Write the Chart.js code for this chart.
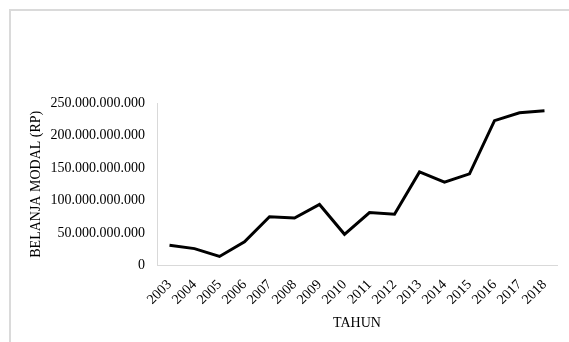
<!DOCTYPE html>
<html>
<head>
<meta charset="utf-8">
<script src="https://cdn.jsdelivr.net/npm/chart.js@4/dist/chart.umd.min.js"></script>
<style>
  html, body { margin: 0; padding: 0; background: #fff; }
  #wrap { position: relative; width: 569px; height: 342px; overflow: hidden; }
  #frame { position: absolute; left: 9px; top: 9px; width: 600px; height: 400px;
           border-left: 2px solid #dadada; border-top: 2px solid #dadada; }
  #chart { position: absolute; left: 0; top: 0; }
</style>
</head>
<body>
<div id="wrap">
  <div id="frame"></div>
  <canvas id="chart" width="569" height="342"></canvas>
</div>
<script>
const years = ['2003','2004','2005','2006','2007','2008','2009','2010','2011','2012','2013','2014','2015','2016','2017','2018'];
// belanja modal, in billions of rupiah
const belanjaModal = [31.3, 26, 14, 36.5, 75, 73, 94, 48, 81.4, 78.8, 144, 128.4, 141, 222.9, 235, 238];
const yMax = 250e9;
const yStep = 50e9;

const FONT = 'Liberation Serif, Times New Roman, serif';

function rupiah(v) {
  return String(Math.round(v)).replace(/\B(?=(\d{3})+(?!\d))/g, '.');
}

new Chart(document.getElementById('chart'), {
  type: 'line',
  data: {
    labels: years,
    datasets: [{
      data: belanjaModal.map(v => v * 1e9),
      borderColor: '#000',
      borderWidth: 3,
      pointRadius: 0,
      tension: 0,
      fill: false,
    }]
  },
  options: {
    responsive: false,
    animation: false,
    layout: { padding: { left: 26, right: 12, top: 103, bottom: 8 } },
    plugins: { legend: { display: false }, tooltip: { enabled: false } },
    scales: {
      x: {
        offset: true,
        grid: { display: false, drawTicks: false },
        border: { color: '#d9d9d9', width: 1 },
        ticks: { color: '#000', font: { family: FONT, size: 14 }, autoSkip: false, minRotation: 45, maxRotation: 45, padding: 11 },
        title: { display: true, text: 'TAHUN', color: '#000', font: { family: FONT, size: 14 }, padding: { top: 2, bottom: 2 } },
        // let the rotated year labels hang under the y axis instead of pushing the plot right,
        // and tighten the band the labels reserve
        afterFit: s => { s.paddingLeft = 0; s.paddingRight = 0; s.height -= 6; }
      },
      y: {
        min: 0, max: yMax,
        grid: { display: false, drawTicks: false },
        border: { color: '#d9d9d9', width: 1 },
        ticks: { stepSize: yStep, color: '#000', font: { family: FONT, size: 14 }, padding: 12, callback: v => rupiah(v) },
        title: { display: true, text: 'BELANJA MODAL (RP)', color: '#000', font: { family: FONT, size: 14 }, padding: { top: 2, bottom: 2 } },
        afterFit: s => { s.width = 131; }
      }
    }
  }
});
</script>
</body>
</html>
